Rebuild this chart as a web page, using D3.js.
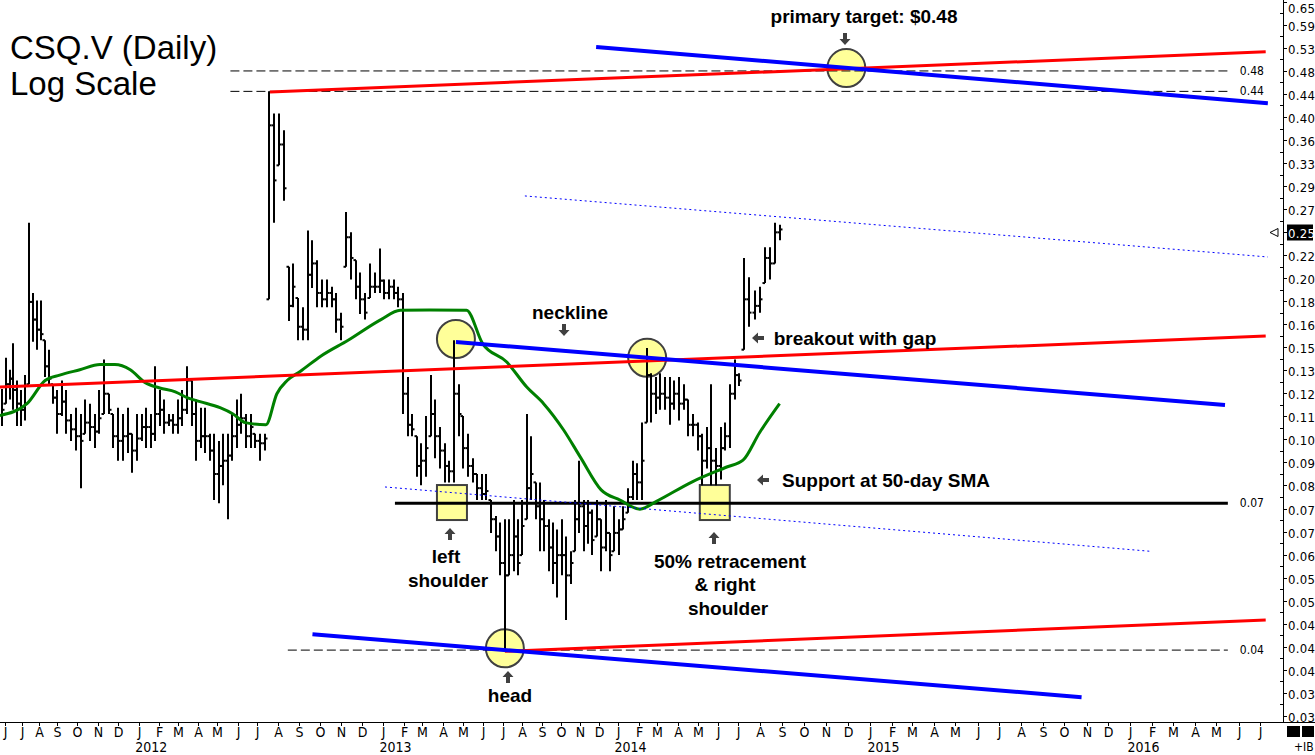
<!DOCTYPE html>
<html><head><meta charset="utf-8">
<script src="https://cdn.jsdelivr.net/npm/d3@7"></script>
<style>
html,body{margin:0;padding:0;background:#fff;}
svg{display:block;}
</style></head><body>
<svg id="c" width="1315" height="755"></svg>
<script>
// ---------------- DATA ----------------
const weekStart = "2011-05-23"; // first weekly bar (Monday), one bar per week
const highs = [
.1225,.140,.133,.149,.127,.122,.130,.250,.185,.179,.179,.151,.145,.125,.122,.127,.122,.110,.113,.110,
.117,.115,.110,.122,.139,.120,.110,.113,.110,.113,.101,.110,.110,.113,.110,.135,.122,.117,.110,.110,
.117,.122,.135,.127,.117,.113,.113,.101,.101,.098,.101,.101,.110,.117,.120,.110,.110,.101,.101,.101,
.440,.400,.400,.372,.207,.210,.181,.174,.242,.232,.213,.196,.196,.190,.185,.170,.262,.240,.213,.202,
.185,.210,.202,.224,.196,.196,.196,.190,.185,.129,.110,.100,.097,.109,.130,.117,.104,.097,.090,.151,
.125,.109,.101,.091,.085,.085,.085,.076,.071,.069,.070,.070,.076,.070,.076,.110,.100,.082,.082,.076,
.070,.069,.067,.070,.065,.061,.076,.090,.076,.076,.073,.076,.070,.076,.066,.074,.070,.074,.080,.090,
.089,.106,.146,.131,.129,.131,.129,.129,.127,.129,.125,.117,.110,.106,.101,.104,.125,.095,.104,.106,
.125,.139,.131,.215,.198,.187,.190,.225,.225,.250,.248];
const lows = [
.1045,.115,.117,.112,.1045,.1045,.107,.125,.150,.145,.151,.129,.124,.115,.101,.109,.101,.098,.094,.080,
.101,.098,.095,.101,.110,.110,.095,.090,.090,.093,.0855,.090,.098,.095,.095,.098,.1045,.101,.1045,.101,
.101,.1045,.110,.1045,.090,.095,.093,.090,.076,.075,.081,.070,.090,.095,.101,.095,.095,.095,.090,.094,
.180,.250,.320,.275,.164,.174,.151,.151,.151,.189,.174,.174,.174,.174,.156,.151,.207,.196,.180,.169,
.165,.181,.185,.185,.180,.180,.180,.174,.110,.100,.100,.084,.081,.084,.100,.091,.087,.082,.082,.082,
.100,.087,.084,.082,.076,.076,.076,.066,.061,.055,.040,.055,.056,.055,.060,.070,.076,.070,.061,.061,
.056,.053,.050,.055,.0454,.053,.061,.066,.061,.063,.060,.065,.056,.061,.056,.061,.060,.067,.072,.076,
.076,.076,.106,.106,.110,.112,.112,.105,.112,.107,.112,.100,.100,.094,.081,.087,.081,.081,.083,.094,
.095,.117,.124,.145,.160,.165,.170,.193,.196,.210,.232];
const closes = [
.112,.125,.128,.122,.115,.112,.115,.178,.165,.158,.155,.135,.128,.118,.110,.116,.107,.103,.100,.098,
.106,.104,.102,.108,.120,.112,.100,.098,.100,.101,.094,.099,.104,.104,.101,.110,.112,.106,.107,.105,
.108,.112,.127,.110,.098,.100,.100,.094,.085,.088,.090,.092,.100,.105,.108,.100,.104,.098,.097,.099,
.380,.300,.350,.290,.175,.190,.160,.158,.200,.210,.185,.180,.185,.180,.165,.160,.235,.215,.190,.180,
.170,.190,.190,.195,.185,.190,.185,.180,.120,.105,.103,.088,.090,.095,.110,.100,.094,.088,.086,.120,
.110,.095,.088,.085,.080,.078,.079,.070,.065,.058,.055,.060,.065,.058,.068,.080,.085,.074,.070,.068,
.062,.058,.060,.060,.055,.058,.070,.074,.068,.072,.064,.070,.062,.066,.060,.066,.067,.070,.077,.085,
.082,.090,.130,.120,.118,.120,.118,.115,.120,.115,.117,.105,.105,.100,.090,.095,.090,.088,.095,.100,
.120,.130,.127,.180,.170,.175,.180,.215,.210,.240,.243];

// 50-day simple moving average
const smaDates = ["2011-05-23","2011-07-10","2011-08-11","2011-09-05","2011-10-05","2011-11-04","2011-11-26",
"2011-12-19","2012-01-10","2012-02-02","2012-02-26","2012-03-15","2012-04-04","2012-05-05","2012-05-25",
"2012-06-13","2012-07-14","2012-07-30","2012-08-14","2012-09-02","2012-10-02","2012-11-11","2012-12-29",
"2013-01-27","2013-03-12","2013-05-07","2013-05-31","2013-07-07","2013-08-08","2013-09-04","2013-10-06",
"2013-11-02","2013-12-05","2014-01-04","2014-02-03","2014-02-28","2014-04-23","2014-06-14","2014-07-08",
"2014-07-31","2014-08-28"];
const smaValues = [.1093,.115,.127,.130,.133,.136,.136,.133,.126,.123,.121,.118,.116,.113,.110,.106,.105,
.120,.127,.132,.141,.151,.165,.1717,.172,.1717,.149,.1375,.1235,.115,.1027,.0913,.0794,.076,.0731,.0756,
.0822,.0876,.0902,.1015,.115];

// Trend lines: [name, start date, start price, end date, end price]
const trendLines = [
  ["redTop",   "2012-07-20", 0.4386, "2016-07-09", 0.521],
  ["blueTop",  "2013-11-27", 0.532,  "2016-07-12", 0.418],
  ["dotUpper", "2013-08-05", 0.2806, "2016-07-12", 0.2159],
  ["redMid",   "2011-05-23", 0.1235, "2016-07-09", 0.1537],
  ["neckline", "2013-04-21", 0.1498, "2016-05-13", 0.1143],
  ["dotLower", "2013-01-04", 0.0804, "2016-01-29", 0.0610],
  ["redLow",   "2013-07-04", 0.0397, "2016-07-09", 0.0454],
  ["blueLow",  "2012-09-20", 0.0427, "2015-10-25", 0.0326]
];
// Horizontal price levels: [name, price, start date, end date, label]
const levels = [
  ["dash", 0.480, "2012-05-21", "2016-05-17", "0.48"],
  ["dash", 0.4397,"2012-05-21", "2016-05-17", "0.44"],
  ["support", 0.075, "2013-01-19", "2016-05-17", "0.07"],
  ["dash", 0.0399,"2012-08-15", "2016-05-17", "0.04"]
];
// Highlight circles and boxes: [date, price]
const circles = [["2013-04-21",0.1518],["2014-02-14",0.140],["2013-07-04",0.0402],["2014-11-29",0.486]];
const boxes = [["2013-04-15",0.0752],["2014-05-27",0.0752]];

const yTickLabels = ["0.65","0.59","0.53","0.48","0.44","0.40","0.36","0.33","0.29","0.27","0.25","0.22",
"0.20","0.18","0.16","0.15","0.13","0.12","0.11","0.10","0.09","0.08","0.07","0.07","0.06","0.05","0.05",
"0.04","0.04","0.04","0.03","0.03"];
const lastPriceLabel = "0.25";
const monthLetters = ["J","F","M","A","M","J","J","A","S","O","N","D"];
const yearLabels = ["2012","2013","2014","2015","2016"];

// ---------------- SCALES ----------------
const parse = d3.utcParse("%Y-%m-%d");
const xs = d3.scaleUtc()
  .domain(["2011-06-01","2011-09-01","2012-01-01","2012-07-01","2013-01-01","2013-07-01","2014-01-01",
           "2014-07-01","2015-01-01","2016-01-01","2016-07-01"].map(parse))
  .range([5,57,139,257,383,503,618,738,870,1130,1260]);
const ys = d3.scaleLog().domain([0.0293, 0.651]).range([722, 0]);
const TICK_RATIO = 1.10397;

const svg = d3.select("#c");
const NARROW = "'Liberation Sans Narrow','DejaVu Sans Condensed',sans-serif";
const SANS = "'Liberation Sans',Arial,sans-serif";

const STY = {
  redTop:{c:"#ff0000",w:3}, redMid:{c:"#ff0000",w:3}, redLow:{c:"#ff0000",w:3},
  blueTop:{c:"#0000ff",w:4}, neckline:{c:"#0000ff",w:4}, blueLow:{c:"#0000ff",w:4},
  dotUpper:{c:"#0000ff",w:1,d:"2,3"}, dotLower:{c:"#0000ff",w:1,d:"2,3"}
};

// ---------------- HIGHLIGHTS (under bars) ----------------
const gH = svg.append("g");
circles.forEach(([d,p]) => {
  gH.append("circle").attr("cx", xs(parse(d))).attr("cy", ys(p)).attr("r", 19)
    .attr("fill","#ffff99").attr("stroke","#404040").attr("stroke-width",2);
});
boxes.forEach(([d,p]) => {
  gH.append("rect").attr("x", xs(parse(d))-15).attr("y", ys(p)-17.5).attr("width",30).attr("height",35)
    .attr("fill","#ffff99").attr("stroke","#404040").attr("stroke-width",2);
});

// ---------------- LEVEL LINES ----------------
const gL = svg.append("g");
levels.forEach(([kind,p,d0,d1,lab]) => {
  const yy = ys(p);
  gL.append("line").attr("x1", xs(parse(d0))).attr("x2", xs(parse(d1))).attr("y1",yy).attr("y2",yy)
    .attr("stroke","#000").attr("stroke-width", kind==="support"?3:1)
    .attr("stroke-dasharray", kind==="support"?null:"9,4");
  gL.append("text").attr("x", xs(parse(d1))+12).attr("y", yy+4).text(lab)
    .attr("font-family",NARROW).attr("font-size",12).attr("fill","#000");
});

// ---------------- BARS ----------------
const t0 = parse(weekStart);
const gB = svg.append("g").attr("stroke","#000");
highs.forEach((h,i) => {
  const x = Math.round(xs(d3.utcDay.offset(t0, 7*i+3)));
  gB.append("line").attr("x1",x).attr("x2",x).attr("y1",ys(h)).attr("y2",ys(lows[i])).attr("stroke-width",2);
  const yc = ys(closes[i]);
  gB.append("line").attr("x1",x).attr("x2",x+2.5).attr("y1",yc).attr("y2",yc).attr("stroke-width",2);
  if (i>0) {
    const yo = ys(closes[i-1] < lows[i] ? lows[i] : (closes[i-1] > h ? h : closes[i-1]));
    gB.append("line").attr("x1",x-2.5).attr("x2",x).attr("y1",yo).attr("y2",yo).attr("stroke-width",2);
  }
});

// ---------------- SMA ----------------
svg.append("path")
  .datum(smaDates.map((d,i)=>[parse(d), smaValues[i]]))
  .attr("d", d3.line().x(d=>xs(d[0])).y(d=>ys(d[1])).curve(d3.curveMonotoneX))
  .attr("fill","none").attr("stroke","#008000").attr("stroke-width",3);

// ---------------- TREND LINES ----------------
trendLines.forEach(([n,d0,p0,d1,p1]) => {
  const s = STY[n];
  svg.append("line").attr("x1",xs(parse(d0))).attr("y1",ys(p0)).attr("x2",xs(parse(d1))).attr("y2",ys(p1))
    .attr("stroke",s.c).attr("stroke-width",s.w).attr("stroke-dasharray",s.d||null);
});

// ---------------- AXES ----------------
const AX = 1283;
svg.append("line").attr("x1",AX+0.5).attr("x2",AX+0.5).attr("y1",0).attr("y2",722).attr("stroke","#000");
svg.append("line").attr("x1",0).attr("x2",1315).attr("y1",722.5).attr("y2",722.5).attr("stroke","#000");
const gY = svg.append("g");
yTickLabels.forEach((lab,i) => {
  const v = 0.48*Math.pow(TICK_RATIO, 3-i);
  const yy = Math.round(ys(v))+0.5;
  gY.append("line").attr("x1",AX).attr("x2",AX+4).attr("y1",yy).attr("y2",yy).attr("stroke","#000");
  const vm = v/Math.sqrt(TICK_RATIO);
  const ym = Math.round(ys(vm))+0.5;
  if (i < yTickLabels.length-1)
    gY.append("line").attr("x1",AX-3).attr("x2",AX).attr("y1",ym).attr("y2",ym).attr("stroke","#000");
  const ty = Math.max(yy+5, 13);
  if (lab === lastPriceLabel && i===10) {
    gY.append("rect").attr("x",AX+4).attr("y",yy-8).attr("width",26).attr("height",16).attr("fill","#000");
    gY.append("text").attr("x",AX+5).attr("y",ty).text(lab).attr("fill","#fff")
      .attr("font-family",NARROW).attr("font-size",13).attr("letter-spacing",0.3);
    gY.append("path").attr("d",`M${AX-13},${yy} L${AX-5},${yy-4} L${AX-5},${yy+4} Z`)
      .attr("fill","#fff").attr("stroke","#000");
  } else {
    gY.append("text").attr("x",AX+5).attr("y",ty).text(lab).attr("fill","#000")
      .attr("font-family",NARROW).attr("font-size",13).attr("letter-spacing",0.3);
  }
});

const gX = svg.append("g");
d3.utcMonth.range(parse("2011-06-01"), parse("2016-07-02")).forEach(m => {
  const x = Math.round(xs(m))+0.5;
  gX.append("line").attr("x1",x).attr("x2",x).attr("y1",722).attr("y2",726).attr("stroke","#000");
  gX.append("text").attr("x",x).attr("y",737).attr("text-anchor","middle").text(monthLetters[m.getUTCMonth()])
    .attr("font-family",NARROW).attr("font-size",14).attr("fill","#000");
});
yearLabels.forEach(yl => {
  gX.append("text").attr("x", xs(parse(yl+"-01-20"))).attr("y",752).attr("text-anchor","middle").text(yl)
    .attr("font-family",NARROW).attr("font-size",14).attr("fill","#000");
});
svg.append("rect").attr("x",1287).attr("y",726).attr("width",13).attr("height",11).attr("fill","#000");
svg.append("rect").attr("x",1302).attr("y",726).attr("width",12).attr("height",11).attr("fill","#000");
svg.append("text").attr("x",1294).attr("y",751).text("+IB").attr("font-family",NARROW).attr("font-size",12);

// ---------------- TEXT & ARROWS ----------------
svg.append("text").attr("x",10).attr("y",59).text("CSQ.V (Daily)").attr("font-family",SANS).attr("font-size",33);
svg.append("text").attr("x",10).attr("y",95).text("Log Scale").attr("font-family",SANS).attr("font-size",33);

const notes = [
  ["primary target: $0.48", 864, 23],
  ["neckline", 570, 319],
  ["breakout with gap", 855, 345],
  ["Support at 50-day SMA", 886, 487],
  ["left", 446, 563],
  ["shoulder", 448, 587],
  ["head", 510, 702],
  ["50% retracement", 730, 568],
  ["& right", 725, 591],
  ["shoulder", 728, 615]
];
notes.forEach(([t,x,y]) => {
  svg.append("text").attr("x",x).attr("y",y).attr("text-anchor","middle").text(t)
    .attr("font-family",SANS).attr("font-weight","bold").attr("font-size",19).attr("fill","#000");
});
const ARW = "M0,0 L5.5,6 L2,6 L2,12 L-2,12 L-2,6 L-5.5,6 Z";
const arrows = [[845,45,180],[564,336,180],[752,338,-90],[757,480,-90],[450,528,0],[714,532,0],[508,671,0]];
arrows.forEach(([x,y,r]) => {
  svg.append("path").attr("d",ARW).attr("transform",`translate(${x},${y}) rotate(${r})`).attr("fill","#404040");
});
</script>
</body></html>
